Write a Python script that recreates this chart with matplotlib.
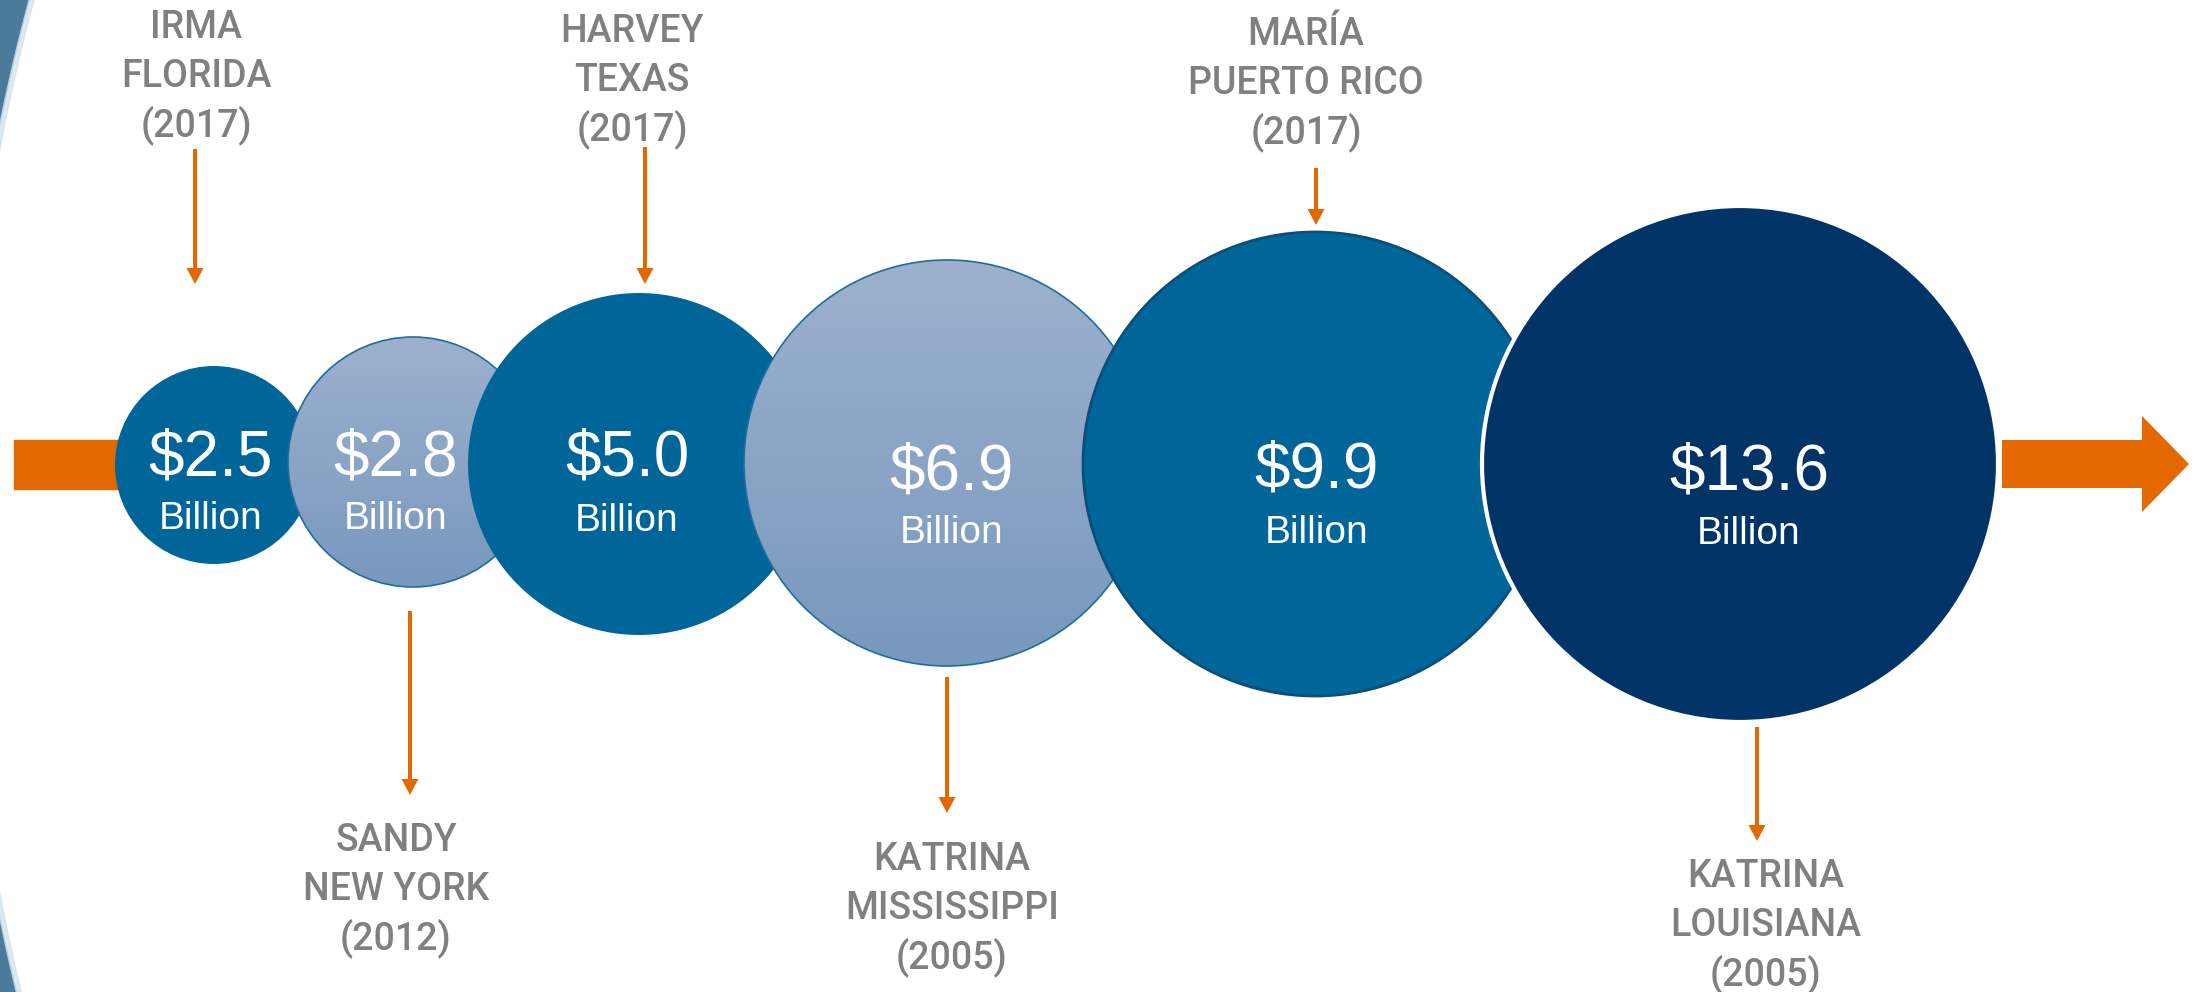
import numpy as np
import matplotlib
matplotlib.use('Agg')
import matplotlib.pyplot as plt
from matplotlib.patches import Circle, Rectangle

# Damage per storm (billions of dollars)
values = [2.5, 2.8, 5.0, 6.9, 9.9, 13.6]
storms = ['IRMA', 'SANDY', 'HARVEY', 'KATRINA', 'MARÍA', 'KATRINA']
places = ['FLORIDA', 'NEW YORK', 'TEXAS', 'MISSISSIPPI', 'PUERTO RICO', 'LOUISIANA']
years = [2017, 2012, 2017, 2005, 2017, 2005]

# Layout (pixel units, y down)
W, H = 2202, 992
cx = [214, 413, 639, 947, 1315, 1740]
cy = [465, 462, 464, 463, 464, 464]
radii = [99, 125, 171, 203, 232, 258]
text_x = [211, 396, 627, 952, 1317, 1749]
value_base = [475, 475, 475, 490, 488, 489]
billion_base = [529, 529, 531, 543, 543, 544]
label_x = [196, 396, 632, 952, 1306, 1766]
label_base = [38, 851, 42, 870, 45, 887]
arrow_x = [195, 410, 645, 947, 1316, 1757]
arrow_y0 = [149, 611, 147, 677, 168, 727]
arrow_y1 = [284, 795, 284, 813, 225, 841]

blue = '#00669a'
navy = '#003466'
orange = '#e36800'
gray = '#808080'
fills = [blue, 'grad', blue, 'grad', blue, navy]
edges = [blue, '#1f6d9c', blue, '#1f6d9c', '#0b4f78', 'white']
edge_w = [0, 1.2, 0, 1.2, 2.0, 3.0]

fig = plt.figure(figsize=(W / 100, H / 100), dpi=100)
ax = fig.add_axes([0, 0, 1, 1])
ax.set_xlim(0, W)
ax.set_ylim(H, 0)
ax.axis('off')

# big ring edge at the far left
ys = np.linspace(0, H, 400)
xs = 1960 - np.sqrt(2000 ** 2 - (ys - 521) ** 2)
ax.fill_betweenx(ys, -10, xs, where=xs > -3, color='#4b7a9b', zorder=0)
ax.fill_betweenx(ys, xs, xs + 5, where=xs > -8, color='#cfe0ea', alpha=0.7, zorder=0)

# timeline arrows
ax.add_patch(Rectangle((14, 440), 150, 49, color=orange, zorder=1))
ax.arrow(2002, 464, 187, 0, width=48, head_width=96, head_length=47,
         length_includes_head=True, color=orange, lw=0, zorder=1)

# gradient for the light circles
grad = np.linspace(0, 1, 256).reshape(-1, 1)
top = np.array([157, 177, 205]) / 255
bot = np.array([120, 152, 190]) / 255
grad_img = top + (bot - top) * grad[..., None]

for i, v in enumerate(values):
    z = 2 + i
    r = radii[i]
    if fills[i] == 'grad':
        circ = Circle((cx[i], cy[i]), r, facecolor='none', edgecolor='none', zorder=z)
        ax.add_patch(circ)
        im = ax.imshow(np.repeat(grad_img, 2, axis=1), extent=(cx[i] - r, cx[i] + r, cy[i] + r, cy[i] - r),
                       aspect='auto', zorder=z, interpolation='bilinear')
        im.set_clip_path(circ)
        ax.add_patch(Circle((cx[i], cy[i]), r, fill=False, edgecolor=edges[i], lw=edge_w[i], zorder=z + 0.1))
    else:
        ax.add_patch(Circle((cx[i], cy[i]), r, facecolor=fills[i], edgecolor=edges[i],
                            lw=edge_w[i], zorder=z))
    ax.text(text_x[i], value_base[i], f'${v:.1f}', color='white', fontsize=46,
            family='Liberation Sans', ha='center', va='baseline', zorder=z + 0.2)
    ax.text(text_x[i], billion_base[i], 'Billion', color='white', fontsize=28,
            family='Liberation Sans', ha='center', va='baseline', zorder=z + 0.2)

# storm labels and pointers
for i in range(len(values)):
    lines = [storms[i], places[i], f'({years[i]})']
    for k, s in enumerate(lines):
        ax.text(label_x[i], label_base[i] + 49 * k, s, color=gray, fontsize=27,
                family='Roboto', weight='medium', ha='center', va='baseline', zorder=10)
    ax.arrow(arrow_x[i], arrow_y0[i], 0, arrow_y1[i] - arrow_y0[i], width=4,
             head_width=17, head_length=16, length_includes_head=True,
             color=orange, lw=0, zorder=10)

fig.savefig('out.png', dpi=100)
